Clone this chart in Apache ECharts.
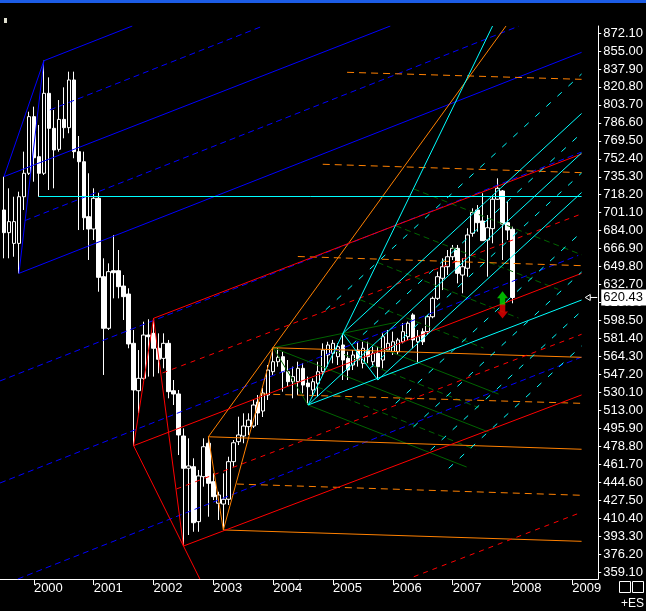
<!DOCTYPE html>
<html>
<head>
<meta charset="utf-8">
<script src="https://cdn.jsdelivr.net/npm/echarts/dist/echarts.min.js"></script>
<style>
html, body { margin: 0; padding: 0; background: #000; }
#main { width: 646px; height: 611px; }
</style>
</head>
<body>
<div id="main"></div>
<script>
let myChart = echarts.init(document.getElementById('main'));

// monthly bars, Jul 1999 .. Jan 2008
let months = [
    '1999-07','1999-08','1999-09','1999-10','1999-11','1999-12',
    '2000-01','2000-02','2000-03','2000-04','2000-05','2000-06','2000-07','2000-08','2000-09','2000-10','2000-11','2000-12',
    '2001-01','2001-02','2001-03','2001-04','2001-05','2001-06','2001-07','2001-08','2001-09','2001-10','2001-11','2001-12',
    '2002-01','2002-02','2002-03','2002-04','2002-05','2002-06','2002-07','2002-08','2002-09','2002-10','2002-11','2002-12',
    '2003-01','2003-02','2003-03','2003-04','2003-05','2003-06','2003-07','2003-08','2003-09','2003-10','2003-11','2003-12',
    '2004-01','2004-02','2004-03','2004-04','2004-05','2004-06','2004-07','2004-08','2004-09','2004-10','2004-11','2004-12',
    '2005-01','2005-02','2005-03','2005-04','2005-05','2005-06','2005-07','2005-08','2005-09','2005-10','2005-11','2005-12',
    '2006-01','2006-02','2006-03','2006-04','2006-05','2006-06','2006-07','2006-08','2006-09','2006-10','2006-11','2006-12',
    '2007-01','2007-02','2007-03','2007-04','2007-05','2007-06','2007-07','2007-08','2007-09','2007-10','2007-11','2007-12',
    '2008-01'
];
let opens = [
    703.7,682.1,671.9,671.9,716.3,738.6,
    792.5,754.4,738.6,814.7,781.4,761.4,789.9,782.0,827.4,759.2,749.6,697.3,
    685.6,714.8,640.2,591.1,645.9,645.9,631.3,623.7,576.8,531.7,543.5,584.7,
    586.3,572.1,562.5,576.8,531.7,528.6,488.6,457.9,459.4,407.1,449.9,481.7,
    445.1,424.6,423.9,428.4,464.2,483.2,488.6,497.5,498.1,521.0,512.4,527.6,
    549.8,559.3,564.1,549.8,540.3,540.3,553.0,539.0,532.4,538.8,549.8,565.7,
    567.3,564.1,575.2,562.5,556.2,570.4,557.8,570.4,559.3,567.3,560.9,570.4,
    568.8,568.8,578.3,583.1,603.8,578.3,587.9,587.9,602.1,619.6,638.7,649.7,
    659.2,667.2,641.8,648.2,681.5,703.7,693.2,675.1,685.9,713.9,721.8,691.6,
    685.3
];
let closes = [
    682.1,692.6,692.6,716.3,738.6,792.5,
    753.4,738.6,814.7,781.4,760.8,789.9,782.0,827.4,759.2,749.6,696.3,685.6,
    714.8,639.6,591.1,645.0,644.0,630.7,621.2,576.2,532.4,543.5,584.7,583.1,
    572.1,561.6,576.8,530.8,528.6,489.6,457.9,460.1,406.1,450.6,478.4,443.6,
    430.9,432.5,428.4,464.2,482.2,489.6,498.1,503.8,518.1,510.5,529.5,551.4,
    559.3,563.5,549.8,540.3,545.1,553.0,537.1,535.5,540.3,549.8,570.4,575.2,
    576.8,573.6,560.9,551.4,565.7,560.9,572.1,564.1,567.3,554.6,583.1,576.8,
    578.3,580.0,587.9,595.9,580.0,583.1,578.3,602.1,619.6,640.2,649.7,659.2,
    667.2,643.4,649.7,679.9,701.3,691.6,674.5,686.8,713.9,724.3,690.3,684.6,
    620.43
];
let lows = [
    657.7,657.7,659.2,643.4,703.7,737.0,
    730.6,716.3,737.0,722.7,724.3,759.2,771.9,776.7,752.9,684.6,684.6,656.1,
    675.1,625.9,546.7,589.5,619.6,619.6,599.0,572.1,479.4,510.2,541.9,545.1,
    545.1,548.3,553.0,524.5,518.1,470.5,383.9,394.4,397.5,397.5,440.4,411.8,
    427.7,408.7,399.2,423.0,459.4,480.0,481.7,489.6,496.2,499.1,506.7,522.9,
    546.7,554.6,530.8,535.5,524.5,527.6,529.2,518.1,526.0,526.0,546.7,554.6,
    557.8,556.2,541.9,541.9,551.4,554.6,553.0,557.8,554.6,541.9,553.0,568.8,
    565.7,565.7,576.8,580.0,572.1,557.8,575.2,584.7,600.6,618.0,627.5,641.8,
    656.1,633.9,624.4,640.2,678.3,683.0,674.5,640.2,672.0,713.2,656.1,675.1,
    614.9
];
let highs = [
    735.4,724.3,716.3,721.1,759.2,797.2,
    802.0,784.6,845.7,829.9,798.8,808.3,820.4,835.3,835.3,774.1,759.2,738.6,
    724.3,720.1,657.7,652.9,679.9,665.6,641.8,629.2,589.5,570.4,597.4,599.7,
    600.6,586.3,586.3,580.0,541.9,532.4,495.9,486.4,467.4,456.3,486.4,488.0,
    453.1,435.6,453.1,468.9,484.8,507.0,510.2,510.2,522.9,527.6,534.3,556.2,
    572.6,572.1,568.8,560.9,554.6,559.3,557.8,545.1,543.5,559.3,576.8,578.3,
    580.0,576.8,586.3,568.8,570.4,578.3,578.3,578.3,573.6,573.6,586.3,589.5,
    587.9,582.0,595.9,597.5,605.4,589.5,591.1,603.8,621.2,645.0,657.7,665.6,
    670.4,670.4,657.7,686.3,705.3,708.4,719.6,698.9,718.0,733.8,722.7,711.6,
    687.8
];

// axis ticks
let yearTicks = [2000, 2001, 2002, 2003, 2004, 2005, 2006, 2007, 2008, 2009];
let priceTicks = [
    359.1, 376.2, 393.3, 410.4, 427.5, 444.6, 461.7, 478.8, 495.9, 513.0,
    530.1, 547.2, 564.3, 581.4, 598.5, 615.6, 632.7, 649.8, 666.9, 684.0,
    701.1, 718.2, 735.3, 752.4, 769.5, 786.6, 803.7, 820.8, 837.9, 855.0, 872.1
];

// trend lines: [month index from Jan 2000, price] end points
let blueSolid = [
    [[-6, 735.4], [2, 845.7]],
    [[2, 845.7], [-3, 643.4]],
    [[2, 845.7], [19.74, 878.76]],
    [[-6, 735.4], [71.5, 878.76]],
    [[-3, 643.4], [109.86, 853.7]]
];
let blueDashed = [
    [[3.2, 798.9], [45.94, 878.76]],
    [[-1.8, 693.6], [97.2, 878.5]],
    [[-6.8, 541.0], [109.8, 758.7]],
    [[-6.8, 443.9], [109.2, 660.5]],
    [[-3.24, 352.54], [109.8, 563.6]]
];
let redSolid = [
    [[20, 479.4], [24, 600.6]],
    [[24, 600.6], [30, 383.9]],
    [[20, 479.4], [33.29, 352.54]],
    [[24, 600.6], [109.86, 757.0]],
    [[20, 479.4], [109.86, 643.4]],
    [[30, 383.9], [109.86, 527.7]]
];
let redDashed = [
    [[25.8, 548.6], [109.86, 700.0]],
    [[28.6, 438.2], [109.86, 585.4]],
    [[76.2, 354.7], [109.86, 416.1]]
];
let orangeSolid = [
    [[35, 487.9], [38, 399.2]],
    [[38, 399.2], [48, 572.6]],
    [[35, 487.9], [94.7, 878.76]],
    [[35, 487.9], [109.86, 476.0]],
    [[48, 572.6], [109.86, 563.5]],
    [[38, 399.2], [109.86, 388.4]]
];
let orangeDashed = [
    [[40.72, 442.9], [109.86, 432.2]],
    [[45.6, 528.6], [109.86, 519.7]],
    [[52.94, 659.4], [109.86, 650.7]],
    [[57.94, 747.2], [109.86, 739.2]],
    [[62.82, 834.7], [109.86, 828.0]]
];
let cyanSolid = [
    [[1, 716.3], [109.86, 716.3]],
    [[55, 518.1], [92, 878.76]],
    [[62, 586.3], [69, 541.9]],
    [[55, 518.1], [109.86, 618.0]],
    [[55, 518.1], [109.86, 757.9]],
    [[62, 586.3], [109.86, 795.5]],
    [[69, 541.9], [109.86, 720.3]]
];
let cyanDashed = [
    [[58.54, 608.7], [109.86, 833.1]],
    [[63.78, 575.4], [109.86, 776.9]],
    [[67.34, 552.8], [109.86, 738.9]],
    [[72.56, 519.7], [109.86, 682.7]],
    [[76.12, 497.2], [109.86, 644.7]],
    [[79.58, 475.2], [109.86, 607.6]],
    [[83.2, 457.9], [109.86, 574.3]]
];
let greenSolid = [
    [[48, 572.6], [55, 518.1]],
    [[48, 572.6], [73.2, 597.3]],
    [[62, 586.3], [93.2, 528.5]],
    [[48, 572.6], [91.2, 492.4]],
    [[55, 518.1], [86.8, 459.1]]
];
let greenDashed = [
    [[60.36, 569.7], [89.2, 515.6]],
    [[56.84, 535.3], [88.6, 475.6]],
    [[65.36, 618.4], [90.2, 572.3]],
    [[68.96, 653.7], [97.2, 600.9]],
    [[72.58, 688.7], [105.2, 628.1]],
    [[76.18, 723.7], [109.86, 661.1]]
];

// signal arrows
let buySignal = [[94, 619.6]];
let sellSignal = [[94, 607.1]];

function monthIndex(s) {
    let p = s.split('-');
    return (Number(p[0]) - 2000) * 12 + Number(p[1]) - 1;
}

let candles = months.map((m, i) => [monthIndex(m), opens[i], closes[i], lows[i], highs[i]]);
let lastClose = closes[closes.length - 1];

function trend(list, color, type, z) {
    return {
        type: 'lines',
        coordinateSystem: 'cartesian2d',
        silent: true,
        z: z,
        lineStyle: { color: color, width: 1, type: type, opacity: 1 },
        data: list.map(c => ({ coords: c }))
    };
}

const FONT = 'Liberation Sans, Arial, sans-serif';

let option = {
    backgroundColor: '#000',
    animation: false,
    grid: { left: 0, right: 46, top: 26, bottom: 32 },
    xAxis: {
        type: 'value',
        min: -6.8,
        max: 113.2,
        splitLine: { show: false },
        axisLine: { onZero: false, lineStyle: { color: '#fff', width: 1 } },
        axisTick: {
            length: 6,
            lineStyle: { color: '#fff' },
            customValues: yearTicks.map(y => (y - 2000) * 12)
        },
        axisLabel: {
            customValues: yearTicks.map(y => (y - 2000) * 12),
            formatter: v => String(2000 + Math.round(v / 12)),
            align: 'left',
            margin: 3,
            color: '#fff',
            fontFamily: FONT,
            fontSize: 13
        }
    },
    yAxis: {
        type: 'value',
        position: 'right',
        min: 352.54,
        max: 878.76,
        splitLine: { show: false },
        axisLine: { show: true, onZero: false, lineStyle: { color: '#fff', width: 1 } },
        axisTick: {
            length: 3,
            lineStyle: { color: '#fff' },
            customValues: priceTicks
        },
        axisLabel: {
            customValues: priceTicks,
            formatter: v => v.toFixed(2),
            margin: 5,
            color: '#fff',
            fontFamily: FONT,
            fontSize: 13
        }
    },
    series: [
        {
            type: 'candlestick',
            data: candles,
            encode: { x: 0, y: [1, 2, 3, 4] },
            barWidth: 4,
            z: 2,
            itemStyle: {
                color: '#000',
                color0: '#fff',
                borderColor: '#fff',
                borderColor0: '#fff',
                borderWidth: 1
            }
        },
        trend(blueDashed, '#0000ff', [6, 4], 3),
        trend(blueSolid, '#0000ff', 'solid', 3),
        trend(greenDashed, '#006400', [6, 4], 4),
        trend(greenSolid, '#006400', 'solid', 4),
        trend(orangeDashed, '#ff8000', [7, 5], 5),
        trend(orangeSolid, '#ff8000', 'solid', 5),
        trend(redDashed, '#ff0000', [5, 5], 6),
        trend(redSolid, '#ff0000', 'solid', 6),
        trend(cyanDashed, '#00ffff', [6, 9], 7),
        trend(cyanSolid, '#00ffff', 'solid', 7),
        {
            type: 'scatter',
            data: buySignal,
            symbol: 'path://M6,0 L12,7 L9,7 L9,14 L3,14 L3,7 L0,7 Z',
            symbolSize: [11, 14],
            itemStyle: { color: '#00e000' },
            z: 9
        },
        {
            type: 'scatter',
            data: sellSignal,
            symbol: 'path://M3,0 L9,0 L9,7 L12,7 L6,14 L0,7 L3,7 Z',
            symbolSize: [11, 14],
            itemStyle: { color: '#f00000' },
            z: 9
        }
    ]
};

myChart.setOption(option);

// last price tag on the price axis
let tagY = myChart.convertToPixel({ yAxisIndex: 0 }, lastClose);
let axisX = myChart.convertToPixel({ xAxisIndex: 0 }, 113.2);

myChart.setOption({
    graphic: [
        { type: 'rect', shape: { x: 0, y: 0, width: 646, height: 3 }, style: { fill: '#1c5ce6' } },
        { type: 'rect', shape: { x: 4, y: 18, width: 3, height: 5 }, style: { fill: '#e0e0d0' } },
        {
            type: 'rect', shape: { x: axisX + 3, y: tagY - 8, width: 646 - axisX - 3, height: 16 },
            style: { fill: '#fff' }, z: 100
        },
        {
            type: 'text', x: axisX + 5, y: tagY, z: 101,
            style: { text: lastClose.toFixed(2), fill: '#000', font: '13px ' + FONT, textVerticalAlign: 'middle' }
        },
        {
            type: 'polygon', z: 100,
            shape: { points: [[axisX - 13, tagY], [axisX - 8, tagY - 3], [axisX - 8, tagY + 3]] },
            style: { fill: '#000', stroke: '#fff', lineWidth: 1 }
        },
        {
            type: 'line', z: 100,
            shape: { x1: axisX - 8, y1: tagY, x2: axisX - 1, y2: tagY },
            style: { stroke: '#fff', lineWidth: 1 }
        },
        { type: 'rect', shape: { x: 619.5, y: 581.5, width: 11, height: 11 }, style: { fill: 'none', stroke: '#fff', lineWidth: 1 } },
        { type: 'rect', shape: { x: 632.5, y: 581.5, width: 11, height: 11 }, style: { fill: 'none', stroke: '#fff', lineWidth: 1 } },
        {
            type: 'text', x: 644, y: 604,
            style: { text: '+ES', fill: '#fff', font: '12px ' + FONT, textAlign: 'right', textVerticalAlign: 'middle' }
        }
    ]
});
</script>
</body>
</html>
